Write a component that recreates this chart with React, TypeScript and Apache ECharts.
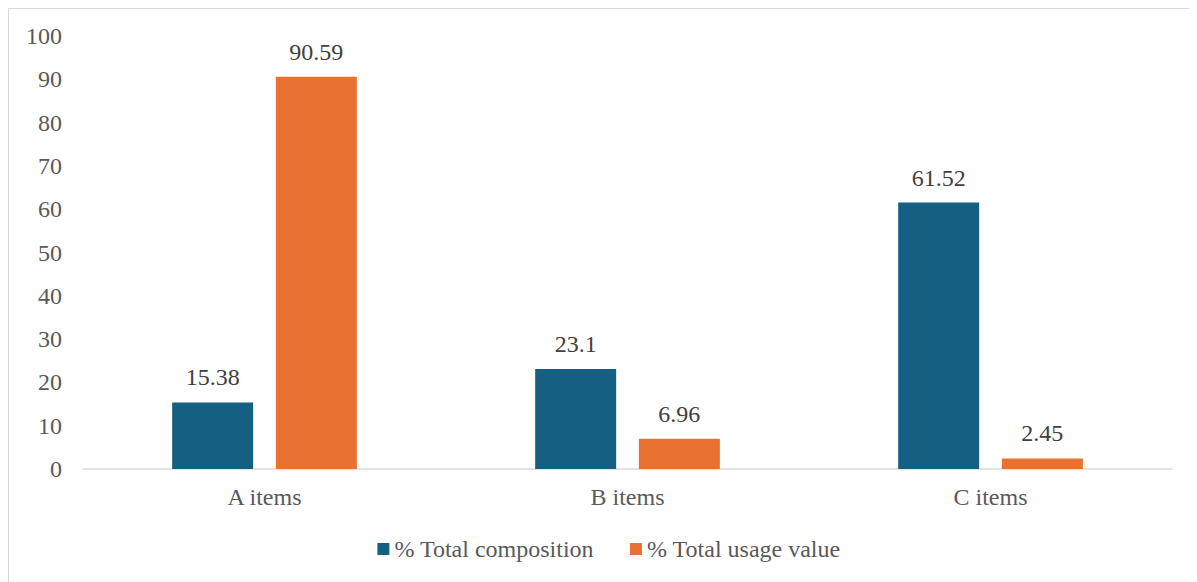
import React, { useEffect, useRef } from "react";
import * as echarts from "echarts";

const categories = ["A items", "B items", "C items"];
const compositionValues = [15.38, 23.1, 61.52];
const usageValues = [90.59, 6.96, 2.45];
const seriesNames = ["% Total composition", "% Total usage value"];

const FONT = "'Liberation Serif', 'Times New Roman', serif";
const TEXT = "#595959";

export default function App() {
  const ref = useRef<HTMLDivElement>(null);
  useEffect(() => {
    if (!ref.current) return;
    const chart = echarts.init(ref.current, undefined, { renderer: "svg" });
    chart.setOption({
      animation: false,
      textStyle: { fontFamily: FONT },
      grid: { left: 74, top: 27, width: 1089, height: 433, containLabel: false },
      legend: {
        top: 523,
        left: "center",
        itemWidth: 12,
        itemHeight: 12,
        itemGap: 36,
        icon: "rect",
        textStyle: { fontFamily: FONT, fontSize: 24, color: TEXT },
        data: seriesNames,
      },
      xAxis: {
        type: "category",
        data: categories,
        axisLine: { lineStyle: { color: "#d9d9d9", width: 1.5 } },
        axisTick: { show: false },
        axisLabel: { fontFamily: FONT, fontSize: 24, color: TEXT, margin: 16 },
      },
      yAxis: {
        type: "value",
        min: 0,
        max: 100,
        interval: 10,
        axisLine: { show: false },
        axisTick: { show: false },
        splitLine: { show: false },
        axisLabel: { fontFamily: FONT, fontSize: 24, color: TEXT, margin: 21 },
      },
      series: [
        {
          name: seriesNames[0],
          type: "bar",
          data: compositionValues,
          barWidth: 81,
          barGap: "28%",
          itemStyle: { color: "#156082" },
          label: { show: true, position: "top", distance: 13, fontFamily: FONT, fontSize: 24, color: "#404040" },
        },
        {
          name: seriesNames[1],
          type: "bar",
          data: usageValues,
          barWidth: 81,
          itemStyle: { color: "#E97132" },
          label: { show: true, position: "top", distance: 13, fontFamily: FONT, fontSize: 24, color: "#404040" },
        },
      ],
    });
    return () => chart.dispose();
  }, []);
  return (
    <div style={{ width: 1200, height: 580, border: "1px solid #d9d9d9" }}>
      <div ref={ref} style={{ width: 1200, height: 580 }} />
    </div>
  );
}
